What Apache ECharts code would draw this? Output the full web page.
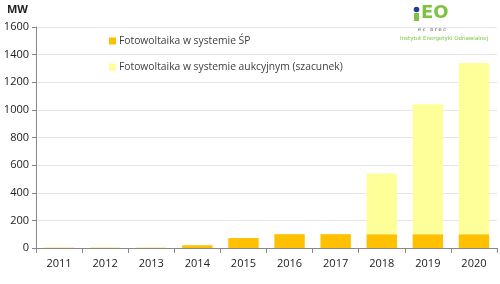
<!DOCTYPE html>
<html><head><meta charset="utf-8">
<script src="https://cdn.jsdelivr.net/npm/echarts@6/dist/echarts.min.js"></script>
<style>html,body{margin:0;padding:0;background:#fff}#c{width:500px;height:284px}</style>
</head><body><div id="c"></div>
<script>
const years = ['2011','2012','2013','2014','2015','2016','2017','2018','2019','2020'];
const spValues = [2, 2, 2, 20, 72, 100, 100, 100, 100, 100];
const auctionValues = [0, 0, 0, 0, 0, 0, 0, 440, 940, 1240];
const yTicks = [0, 200, 400, 600, 800, 1000, 1200, 1400, 1600];
const seriesNames = ['Fotowoltaika w systemie ŚP', 'Fotowoltaika w systemie aukcyjnym (szacunek)'];

const chart = echarts.init(document.getElementById('c'), null, {renderer:'canvas'});
const font = '"Open Sans", "DejaVu Sans", sans-serif';
chart.setOption({
  animation:false,
  grid:{left:36, right:3, top:27, bottom:36},
  legend:{
    orient:'vertical', left:104, top:31, itemGap:16, itemWidth:7, itemHeight:7,
    icon:'rect',
    textStyle:{fontFamily:font, fontSize:10.3, color:'#404040', padding:[0,0,0,-2]},
    data:seriesNames
  },
  xAxis:{
    type:'category', data:years, boundaryGap:true,
    axisLine:{lineStyle:{color:'#888'}},
    axisTick:{show:true, length:5, lineStyle:{color:'#888'}},
    axisLabel:{fontFamily:font, fontSize:11, color:'#222', margin:10}
  },
  yAxis:{
    type:'value', min:yTicks[0], max:yTicks[yTicks.length-1], interval:200,
    name:'MW', nameLocation:'end', nameGap:12,
    nameTextStyle:{fontFamily:font, fontSize:11, fontWeight:'bold', color:'#222', align:'right', padding:[0,8,0,0]},
    axisLine:{show:true, lineStyle:{color:'#888'}},
    axisTick:{show:true, length:4, lineStyle:{color:'#888'}},
    axisLabel:{fontFamily:font, fontSize:11, color:'#222', margin:7, formatter:v=>String(v)},
    splitLine:{lineStyle:{color:'#e6e6e6'}}
  },
  series:[
    {name:seriesNames[0], type:'bar', stack:'a', data:spValues, barWidth:'66%', itemStyle:{color:'#FFC000'}},
    {name:seriesNames[1], type:'bar', stack:'a', data:auctionValues, barWidth:'66%', itemStyle:{color:'#FFFF99'}}
  ],
  graphic:[
    {type:'rect', shape:{x:414, y:13, width:5, height:8}, style:{fill:'#7dc242'}},
    {type:'circle', shape:{cx:416.5, cy:9.5, r:2.8}, style:{fill:'#1f3f8f'}},
    {type:'text', left:421, top:4, style:{text:'EO', font:'bold 18px "DejaVu Sans", sans-serif', fill:'#7dc242'}},
    {type:'text', left:418, top:27, style:{text:'e c   b r e c', font:'5px "DejaVu Sans", sans-serif', fill:'#444'}},
    {type:'text', left:400, top:36, style:{text:'Instytut Energetyki Odnawialnej', font:'5.5px "DejaVu Sans", sans-serif', fill:'#7dc242'}}
  ]
});
</script></body></html>
